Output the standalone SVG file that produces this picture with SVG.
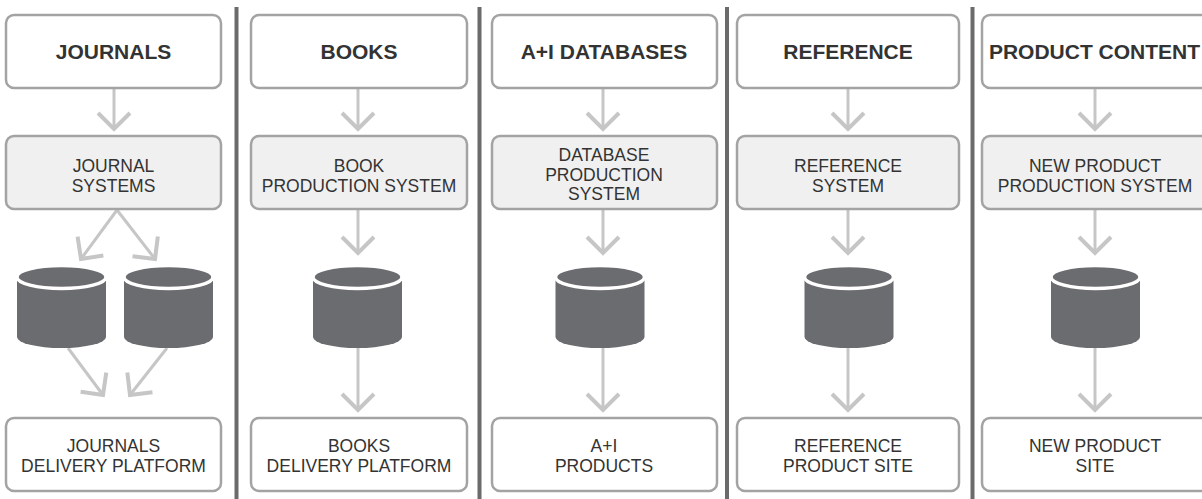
<svg xmlns="http://www.w3.org/2000/svg" width="1202" height="499" viewBox="0 0 1202 499">
<style>
.box{fill:#fff;stroke:#a3a3a3;stroke-width:2.5}
.sys{fill:#f0f0f0;stroke:#a3a3a3;stroke-width:2.5}
.t{font-family:"Liberation Sans",Arial,sans-serif;fill:#333;text-anchor:middle}
.h{font-size:21px;font-weight:bold}
.s{font-size:17.5px}
.div{stroke:#6b6b6b;stroke-width:4}
.ar{stroke:#c6c6c6;stroke-width:3;fill:none;marker-end:url(#chev)}
.cylb{fill:#6b6c6f}
.cylt{fill:#6b6c6f;stroke:#fff;stroke-width:3.5}
</style>
<defs>
<marker id="chev" markerUnits="userSpaceOnUse" orient="auto" refX="0" refY="0" markerWidth="40" markerHeight="40" viewBox="-20 -20 40 40" overflow="visible">
<path d="M -16 -16 L 0 0 L -16 16" fill="none" stroke="#c6c6c6" stroke-width="4"/>
</marker>
<g id="cyl">
<path class="cylb" d="M -44.5 278 L -44.5 337 A 44.5 11 0 0 0 44.5 337 L 44.5 278 Z"/>
<ellipse class="cylt" cx="0" cy="277" rx="44.5" ry="11.5"/>
</g>
</defs>
<rect width="1202" height="499" fill="#fff"/>
<g id="dividers">
<line class="div" x1="236.5" y1="7" x2="236.5" y2="499"/>
<line class="div" x1="479.5" y1="7" x2="479.5" y2="499"/>
<line class="div" x1="727" y1="7" x2="727" y2="499"/>
<line class="div" x1="972.5" y1="7" x2="972.5" y2="499"/>
</g>
<g id="connectors">
<line class="ar" x1="114" y1="88" x2="114" y2="129"/>
<line class="ar" x1="117" y1="210" x2="81" y2="259"/>
<line class="ar" x1="117" y1="210" x2="155" y2="259"/>
<line class="ar" x1="68" y1="348" x2="103" y2="395"/>
<line class="ar" x1="167" y1="348" x2="130" y2="395"/>
<line class="ar" x1="358" y1="88" x2="358" y2="129"/>
<line class="ar" x1="358" y1="209" x2="358" y2="253"/>
<line class="ar" x1="358" y1="348" x2="358" y2="410"/>
<line class="ar" x1="603" y1="88" x2="603" y2="129"/>
<line class="ar" x1="603" y1="209" x2="603" y2="253"/>
<line class="ar" x1="603" y1="348" x2="603" y2="410"/>
<line class="ar" x1="848" y1="88" x2="848" y2="129"/>
<line class="ar" x1="848" y1="209" x2="848" y2="253"/>
<line class="ar" x1="848" y1="348" x2="848" y2="410"/>
<line class="ar" x1="1095" y1="88" x2="1095" y2="129"/>
<line class="ar" x1="1095" y1="209" x2="1095" y2="253"/>
<line class="ar" x1="1095" y1="348" x2="1095" y2="410"/>
</g>
<g id="journals">
<rect class="box" x="6" y="15" width="215" height="73" rx="8"/>
<text class="t h" x="113.5" y="58.5">JOURNALS</text>
</g>
<g id="journal-systems">
<rect class="sys" x="6" y="136" width="215" height="73" rx="8"/>
<text class="t s" x="113.5" y="172">JOURNAL</text>
<text class="t s" x="113.5" y="192">SYSTEMS</text>
</g>
<g id="journal-db1"><use href="#cyl" x="61.5"/></g>
<g id="journal-db2"><use href="#cyl" x="168.5"/></g>
<g id="journals-delivery">
<rect class="box" x="6" y="418" width="215" height="73" rx="8"/>
<text class="t s" x="113.5" y="452">JOURNALS</text>
<text class="t s" x="113.5" y="472">DELIVERY PLATFORM</text>
</g>
<g id="books">
<rect class="box" x="251" y="15" width="216" height="73" rx="8"/>
<text class="t h" x="359" y="58.5">BOOKS</text>
</g>
<g id="book-production">
<rect class="sys" x="251" y="136" width="216" height="73" rx="8"/>
<text class="t s" x="359" y="172">BOOK</text>
<text class="t s" x="359" y="192">PRODUCTION SYSTEM</text>
</g>
<g id="book-db"><use href="#cyl" x="357.5"/></g>
<g id="books-delivery">
<rect class="box" x="251" y="418" width="216" height="73" rx="8"/>
<text class="t s" x="359" y="452">BOOKS</text>
<text class="t s" x="359" y="472">DELIVERY PLATFORM</text>
</g>
<g id="ai-databases">
<rect class="box" x="492" y="15" width="225" height="73" rx="8"/>
<text class="t h" x="604" y="58.5">A+I DATABASES</text>
</g>
<g id="database-production">
<rect class="sys" x="492" y="136" width="225" height="73" rx="8"/>
<text class="t s" x="604" y="161">DATABASE</text>
<text class="t s" x="604" y="180.5">PRODUCTION</text>
<text class="t s" x="604" y="200">SYSTEM</text>
</g>
<g id="ai-db"><use href="#cyl" x="600"/></g>
<g id="ai-products">
<rect class="box" x="492" y="418" width="225" height="73" rx="8"/>
<text class="t s" x="604" y="452">A+I</text>
<text class="t s" x="604" y="472">PRODUCTS</text>
</g>
<g id="reference">
<rect class="box" x="737" y="15" width="222" height="73" rx="8"/>
<text class="t h" x="848" y="58.5">REFERENCE</text>
</g>
<g id="reference-system">
<rect class="sys" x="737" y="136" width="222" height="73" rx="8"/>
<text class="t s" x="848" y="172">REFERENCE</text>
<text class="t s" x="848" y="192">SYSTEM</text>
</g>
<g id="reference-db"><use href="#cyl" x="849"/></g>
<g id="reference-site">
<rect class="box" x="737" y="418" width="222" height="73" rx="8"/>
<text class="t s" x="848" y="452">REFERENCE</text>
<text class="t s" x="848" y="472">PRODUCT SITE</text>
</g>
<g id="product-content">
<rect class="box" x="982" y="15" width="230" height="73" rx="8"/>
<text class="t h" x="1094.5" y="58.5">PRODUCT CONTENT</text>
</g>
<g id="new-product-production">
<rect class="sys" x="982" y="136" width="230" height="73" rx="8"/>
<text class="t s" x="1095" y="172">NEW PRODUCT</text>
<text class="t s" x="1095" y="192">PRODUCTION SYSTEM</text>
</g>
<g id="new-product-db"><use href="#cyl" x="1095.5"/></g>
<g id="new-product-site">
<rect class="box" x="982" y="418" width="230" height="73" rx="8"/>
<text class="t s" x="1095" y="452">NEW PRODUCT</text>
<text class="t s" x="1095" y="472">SITE</text>
</g>
</svg>
